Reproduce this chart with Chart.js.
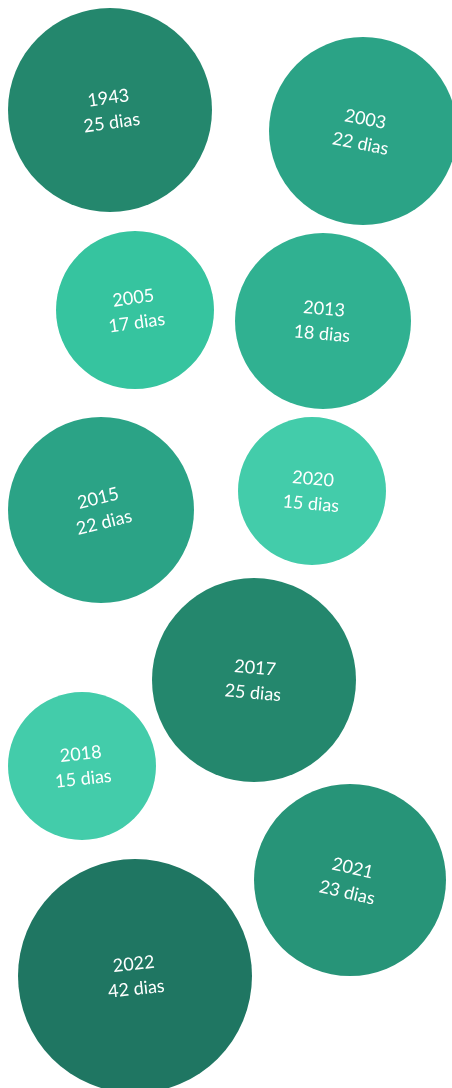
<!DOCTYPE html>
<html>
<head>
<meta charset="utf-8">
<script src="https://cdn.jsdelivr.net/npm/chart.js@4"></script>
<style>
  html, body { margin: 0; padding: 0; background: #fff; }
  #wrap { width: 452px; height: 1088px; position: relative; }
</style>
</head>
<body>
<div id="wrap"><canvas id="diasChart"></canvas></div>
<script>
// data
const years = ["1943", "2003", "2005", "2013", "2015", "2020", "2017", "2018", "2021", "2022"];
const days = [25, 22, 17, 18, 22, 15, 25, 15, 23, 42];
// packed layout of the bubbles (data units = pixels of the layout)
const bubbleX = [110, 363, 135, 323, 101, 312, 254, 82, 350, 135];
const bubbleY = [110, 131, 310, 321, 510, 491, 680, 766, 880, 976];
const bubbleR = [102, 94, 79, 88, 93, 74, 102, 74, 96, 117];

// styles
const shadeByDays = {
  15: "#43ccaa",
  17: "#36c49f",
  18: "#30b191",
  22: "#2ba386",
  23: "#279478",
  25: "#24876d",
  42: "#1f7662",
};
const labelAngles = [-8, 11, -8, 5, -14, 5, 5, -6, 13, -6];

const points = years.map((y, i) => ({ x: bubbleX[i], y: bubbleY[i], r: bubbleR[i] }));

const bubbleLabels = {
  id: "bubbleLabels",
  afterDatasetsDraw(chart) {
    const ctx = chart.ctx;
    const meta = chart.getDatasetMeta(0);
    meta.data.forEach((el, i) => {
      ctx.save();
      ctx.translate(el.x, el.y);
      ctx.rotate((labelAngles[i] * Math.PI) / 180);
      ctx.fillStyle = "#ffffff";
      ctx.font = "18px Lato";
      ctx.textAlign = "center";
      ctx.textBaseline = "middle";
      ctx.fillText(years[i], 0, -12);
      ctx.fillText(days[i] + " dias", 0, 13);
      ctx.restore();
    });
  },
};

new Chart(document.getElementById("diasChart").getContext("2d"), {
  type: "bubble",
  data: {
    datasets: [
      {
        label: "Dias",
        data: points,
        backgroundColor: days.map((d) => shadeByDays[d]),
        borderWidth: 0,
        hoverBorderWidth: 0,
      },
    ],
  },
  options: {
    responsive: true,
    maintainAspectRatio: false,
    animation: false,
    layout: { autoPadding: false, padding: 0 },
    plugins: {
      legend: { display: false },
      tooltip: { enabled: false },
    },
    scales: {
      x: { type: "linear", min: 0, max: 452, display: false },
      y: { type: "linear", min: 0, max: 1088, reverse: true, display: false },
    },
  },
  plugins: [bubbleLabels],
});
</script>
</body>
</html>
